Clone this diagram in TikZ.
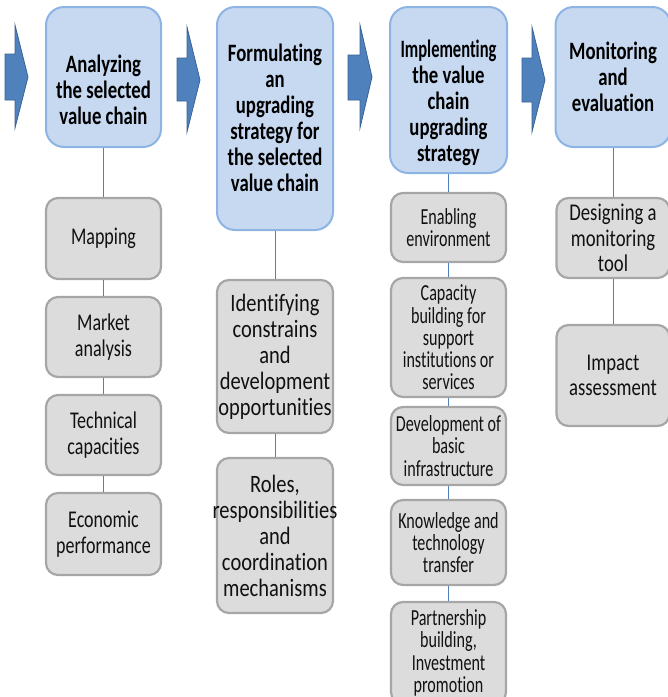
\documentclass[tikz,border=0pt]{standalone}
\usepackage{fontspec}
\newfontfamily\hdfont[FakeStretch=0.75,Ligatures=NoCommon]{Carlito}
\newfontfamily\cafont[FakeStretch=0.75,Ligatures=NoCommon]{Carlito}
\newfontfamily\cbfont[FakeStretch=0.82,Ligatures=NoCommon]{Carlito}
\newfontfamily\ccfont[FakeStretch=0.70,Ligatures=NoCommon]{Carlito}
\newfontfamily\cdfont[FakeStretch=0.78,Ligatures=NoCommon]{Carlito}
\definecolor{hfill}{HTML}{C6D9F1}
\definecolor{hborder}{HTML}{8DB4E2}
\definecolor{sfill}{HTML}{DCDCDC}
\definecolor{sborder}{HTML}{A6A6A6}
\definecolor{linkc}{HTML}{4F81BD}
\definecolor{arrowc}{HTML}{4F81BD}
\definecolor{arrowd}{HTML}{3A6293}
\definecolor{txtc}{HTML}{111111}
\newcommand{\wide}[1]{\makebox[0pt]{#1}}
\begin{document}
\begin{tikzpicture}[x=1pt,y=-1pt,
  hbox/.style={draw=hborder, line width=2pt, fill=hfill, rounded corners=18pt, inner sep=0pt},
  sbox/.style={draw=sborder, line width=2.2pt, fill=sfill, rounded corners=12pt, inner sep=0pt, align=center, text=txtc},
  htxt/.style={align=center, inner sep=0pt, text=black, font=\hdfont\bfseries\fontsize{25}{26}\selectfont},
  colA/.style={sbox, minimum width=115pt, font=\cafont\fontsize{24}{26.5}\selectfont},
  colB/.style={sbox, minimum width=116pt, font=\cbfont\fontsize{25}{26}\selectfont},
  colC/.style={sbox, minimum width=115pt, font=\ccfont\fontsize{23}{22.3}\selectfont},
  colD/.style={sbox, minimum width=113pt, font=\cdfont\fontsize{24}{25.5}\selectfont},
  link/.style={draw=linkc, line width=0.8pt},
  flow/.style={fill=arrowc, draw=arrowd, line width=0.8pt}]
\path[use as bounding box] (0,0) rectangle (668,697);

% flow arrows
\draw[flow] (5,54) -- (15,54) -- (15,25) -- (28,77) -- (15,128) -- (15,100) -- (5,100) -- cycle;
\draw[flow] (177,58) -- (187,58) -- (187,27) -- (200,80) -- (187,132) -- (187,101) -- (177,101) -- cycle;
\draw[flow] (348,55) -- (360,55) -- (360,25) -- (372,77) -- (360,128) -- (360,100) -- (348,100) -- cycle;
\draw[flow] (522,58) -- (532,58) -- (532,27) -- (545,80) -- (532,132) -- (532,102) -- (522,102) -- cycle;

% header boxes
\node[hbox, minimum width=115pt, minimum height=140pt] (h1) at (103.5,77) {};
\node[htxt] (h1t) at (103.5,90) {Analyzing\\the selected\\value chain};
\node[hbox, minimum width=116pt, minimum height=223pt] (h2) at (275,118.5) {};
\node[htxt] (h2t) at (275,118) {Formulating\\an\\upgrading\\strategy for\\the selected\\value chain};
\node[hbox, minimum width=117pt, minimum height=166pt] (h3) at (448.5,90) {};
\node[htxt] (h3t) at (448.5,103) {\scalebox{0.88}[1]{Implementing}\\the value\\chain\\upgrading\\strategy};
\node[hbox, minimum width=115pt, minimum height=140pt] (h4) at (613,77) {};
\node[htxt] (h4t) at (613,77) {Monitoring\\and\\evaluation};

% column 1
\node[colA, minimum height=81pt] (a1) at (103.5,238.5) {Mapping};
\node[colA, minimum height=80pt] (a2) at (103.5,337) {Market\\analysis};
\node[colA, minimum height=80pt] (a3) at (103.5,435) {Technical\\capacities};
\node[colA, minimum height=82pt] (a4) at (103.5,534) {Economic\\performance};

% column 2
\node[colB, minimum height=153pt] (b1) at (275,356.5) {Identifying\\constrains\\and\\development\\\wide{opportunities}};
\node[colB, minimum height=155pt] (b2) at (275,535.5) {Roles,\\\wide{responsibilities}\\and\\coordination\\mechanisms};

% column 3
\node[colC, minimum height=69pt] (c1) at (448.5,227.5) {Enabling\\environment};
\node[colC, minimum height=119pt] (c2) at (448.5,337.5) {Capacity\\building for\\support\\institutions or\\services};
\node[colC, minimum height=78pt] (c3) at (448.5,446) {Development of\\basic\\infrastructure};
\node[colC, minimum height=85pt] (c4) at (448.5,542.5) {Knowledge and\\technology\\transfer};
\node[colC, minimum height=102pt] (c5) at (448.5,653) {Partnership\\building,\\Investment\\promotion};

% column 4
\node[colD, minimum height=80pt] (d1) at (613,238) {Designing a\\monitoring\\tool};
\node[colD, minimum height=101pt] (d2) at (613,375.5) {Impact\\assessment};

% connectors
\draw[link] (h1.south) -- (a1.north);
\draw[link] (a1.south) -- (a2.north);
\draw[link] (a2.south) -- (a3.north);
\draw[link] (a3.south) -- (a4.north);
\draw[link] (h2.south) -- (b1.north);
\draw[link] (b1.south) -- (b2.north);
\draw[link] (h3.south) -- (c1.north);
\draw[link] (c1.south) -- (c2.north);
\draw[link] (c2.south) -- (c3.north);
\draw[link] (c3.south) -- (c4.north);
\draw[link] (c4.south) -- (c5.north);
\draw[link] (h4.south) -- (d1.north);
\draw[link] (d1.south) -- (d2.north);
\end{tikzpicture}
\end{document}
